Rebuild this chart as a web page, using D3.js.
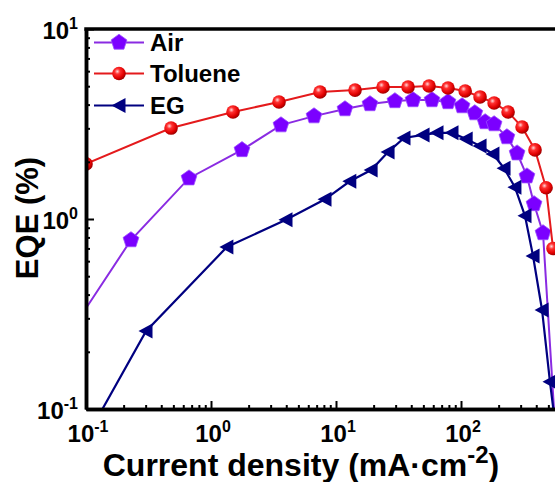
<!DOCTYPE html>
<html>
<head>
<meta charset="utf-8">
<script src="https://cdn.jsdelivr.net/npm/d3@7"></script>
<style>
  body { margin: 0; background: #fff; }
  svg { display: block; font-family: 'Liberation Sans', Arial, sans-serif; font-weight: bold; }
</style>
</head>
<body>
<svg width="555" height="482"></svg>
<script>
// values (J in mA/cm2, EQE in %)
const airJ = [0.0817, 0.229, 0.667, 1.77, 3.63, 6.67, 11.8, 18.7, 29.6, 41.3, 58.6, 78.7, 102, 129, 156, 184, 233, 281, 337, 384, 453, 560];
const airEQE = [0.277, 0.775, 1.64, 2.31, 3.12, 3.48, 3.79, 4.03, 4.18, 4.23, 4.23, 4.13, 3.93, 3.61, 3.24, 3.16, 2.70, 2.22, 1.68, 1.20, 0.844, 0.09];

const toluJ = [0.1, 0.479, 1.50, 3.50, 7.45, 14.2, 23.8, 37.7, 55.5, 78.7, 108, 142, 184, 238, 308, 391, 479, 545];
const toluEQE = [1.95, 3.01, 3.66, 4.13, 4.66, 4.77, 4.95, 4.95, 5.01, 4.89, 4.72, 4.39, 4.08, 3.66, 3.05, 2.31, 1.46, 0.70];

const egJ = [0.118, 0.302, 1.34, 3.98, 8.17, 12.9, 19.1, 26.1, 35.0, 49.7, 64.3, 84.7, 110, 142, 180, 221, 270, 325, 377, 445, 515, 565];
const egEQE = [0.085, 0.257, 0.712, 0.99, 1.27, 1.58, 1.81, 2.25, 2.67, 2.77, 2.84, 2.84, 2.64, 2.42, 2.20, 1.85, 1.47, 1.04, 0.639, 0.332, 0.139, 0.085];

const seriesNames = ['Air', 'Toluene', 'EG'];
const xMajor = [0.1, 1, 10, 100];
const xExp = ['-1', '0', '1', '2'];
const yMajor = [0.1, 1, 10];
const yExp = ['-1', '0', '1'];

const svg = d3.select('svg');
const margin = { left: 86, top: 29, bottom: 409 };

const x = d3.scaleLog().domain([0.1, Math.pow(10, 2.8)]).range([margin.left, margin.left + 125 * 3.8]);
const y = d3.scaleLog().domain([0.1, 10]).range([margin.bottom, margin.top]);

// gradient for the sphere markers
const defs = svg.append('defs');
const grad = defs.append('radialGradient').attr('id', 'ball')
  .attr('cx', '38%').attr('cy', '35%').attr('r', '65%');
grad.append('stop').attr('offset', '0%').attr('stop-color', '#ffd8d8');
grad.append('stop').attr('offset', '30%').attr('stop-color', '#ff3030');
grad.append('stop').attr('offset', '75%').attr('stop-color', '#e00000');
grad.append('stop').attr('offset', '100%').attr('stop-color', '#a00000');

defs.append('clipPath').attr('id', 'plot-clip')
  .append('rect')
  .attr('x', margin.left).attr('y', margin.top)
  .attr('width', 600).attr('height', margin.bottom - margin.top);

// marker shapes
function pentagon(r) {
  const pts = d3.range(5).map(k => {
    const a = -Math.PI / 2 + k * 2 * Math.PI / 5;
    return [r * Math.cos(a), r * Math.sin(a)];
  });
  return 'M' + pts.map(p => p.join(',')).join('L') + 'Z';
}
const triLeft = 'M-7.5,0L6.5,-7.5L6.5,7.5Z';

const series = [
  { name: seriesNames[0], xs: airJ, ys: airEQE, line: '#8a2be2', width: 2 },
  { name: seriesNames[1], xs: toluJ, ys: toluEQE, line: '#e41a1c', width: 2 },
  { name: seriesNames[2], xs: egJ, ys: egEQE, line: '#000080', width: 2.2 }
];

function drawMarker(g, name) {
  if (name === 'Air') {
    g.append('path').attr('d', pentagon(8.3)).attr('fill', '#7b00ff')
      .attr('stroke', '#9a4dff').attr('stroke-width', 0.8);
  } else if (name === 'Toluene') {
    g.append('circle').attr('r', 6.8).attr('fill', 'url(#ball)');
  } else {
    g.append('path').attr('d', triLeft).attr('fill', '#000080');
  }
}

const plot = svg.append('g').attr('clip-path', 'url(#plot-clip)');

series.forEach(s => {
  const pts = s.xs.map((v, i) => [v, s.ys[i]]);
  plot.append('path')
    .datum(pts)
    .attr('fill', 'none')
    .attr('stroke', s.line)
    .attr('stroke-width', s.width)
    .attr('d', d3.line().x(d => x(d[0])).y(d => y(d[1])));

  plot.selectAll(null)
    .data(pts)
    .enter()
    .append('g')
    .attr('transform', d => `translate(${x(d[0])},${y(d[1])})`)
    .each(function() { drawMarker(d3.select(this), s.name); });
});

// axes
function minors(lo, hi) {
  const out = [];
  for (let e = Math.floor(Math.log10(lo)); e <= Math.ceil(Math.log10(hi)); e++) {
    for (let m = 2; m <= 9; m++) {
      const v = m * Math.pow(10, e);
      if (v > lo && v < hi) out.push(v);
    }
  }
  return out;
}

const xAxisG = svg.append('g').attr('transform', `translate(0,${margin.bottom})`);
xAxisG.append('g').call(d3.axisBottom(x).tickValues(minors(0.1, 630)).tickSize(-4).tickSizeOuter(0).tickFormat(''));
xAxisG.append('g').call(d3.axisBottom(x).tickValues(xMajor).tickSize(-8).tickSizeOuter(0).tickFormat(''));

const yAxisG = svg.append('g').attr('transform', `translate(${margin.left},0)`);
yAxisG.append('g').call(d3.axisLeft(y).tickValues(minors(0.1, 10)).tickSize(-4).tickSizeOuter(0).tickFormat(''));
yAxisG.append('g').call(d3.axisLeft(y).tickValues(yMajor).tickSize(-8).tickSizeOuter(0).tickFormat(''));

svg.selectAll('.domain').attr('stroke', '#000').attr('stroke-width', 3.5);
svg.selectAll('.tick line').attr('stroke', '#000').attr('stroke-width', 2);

// top frame line
svg.append('line')
  .attr('x1', margin.left - 1.75).attr('x2', 560)
  .attr('y1', margin.top).attr('y2', margin.top)
  .attr('stroke', '#000').attr('stroke-width', 3.5);

// tick labels with superscripts
xMajor.forEach((v, i) => {
  const t = svg.append('text')
    .attr('x', x(v) + 2).attr('y', 442)
    .attr('text-anchor', 'middle')
    .attr('font-size', 24);
  t.append('tspan').text('10');
  t.append('tspan').attr('dy', -10).attr('font-size', 16).text(xExp[i]);
});

yMajor.forEach((v, i) => {
  const t = svg.append('text')
    .attr('x', 78).attr('y', y(v) + 10)
    .attr('text-anchor', 'end')
    .attr('font-size', 24);
  t.append('tspan').text('10');
  t.append('tspan').attr('dy', -10).attr('font-size', 16).text(yExp[i]);
});

// axis titles
const xTitle = svg.append('text')
  .attr('x', 301).attr('y', 476)
  .attr('text-anchor', 'middle')
  .attr('font-size', 32);
xTitle.append('tspan').text('Current density (mA\u00b7cm');
xTitle.append('tspan').attr('dy', -13).attr('font-size', 24).text('-2');
xTitle.append('tspan').attr('dy', 13).text(')');

svg.append('text')
  .attr('transform', 'translate(38,218) rotate(-90)')
  .attr('text-anchor', 'middle')
  .attr('font-size', 31)
  .text('EQE (%)');

// legend
const legendY = [42.5, 73.5, 105.5];
series.forEach((s, i) => {
  const g = svg.append('g').attr('transform', `translate(0,${legendY[i]})`);
  g.append('line')
    .attr('x1', 94).attr('x2', 144)
    .attr('stroke', s.line).attr('stroke-width', s.width);
  const m = g.append('g').attr('transform', 'translate(119,0)');
  drawMarker(m, s.name);
  g.append('text')
    .attr('x', 150).attr('y', 8.5)
    .attr('font-size', 24)
    .text(s.name);
});
</script>
</body>
</html>
